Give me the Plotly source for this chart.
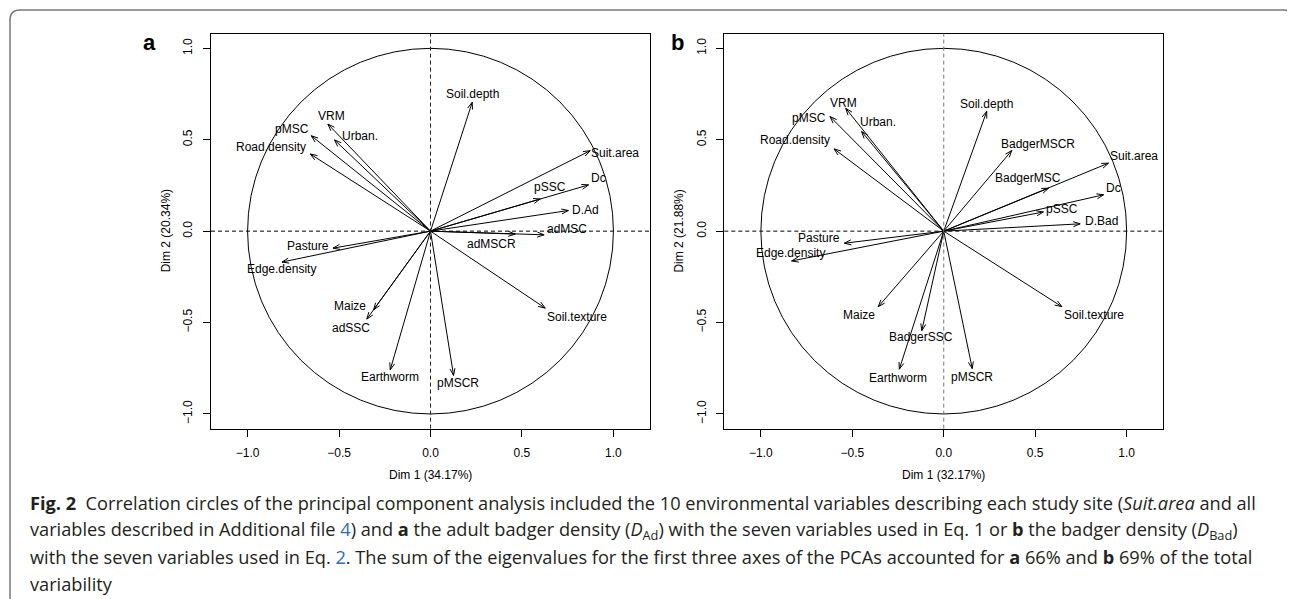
import math
import plotly.graph_objects as go

# page body keeps an 8px margin, so the figure is laid out in page pixels minus that offset
PAGE_W, PAGE_H = 1295, 599
OFF = 8
W, H = PAGE_W - OFF, PAGE_H - OFF

# ---------------- data ----------------
names_a = ["Soil.depth", "Suit.area", "Dc", "pSSC", "D.Ad", "adMSC", "adMSCR",
           "Soil.texture", "pMSCR", "Earthworm", "adSSC", "Maize", "Edge.density",
           "Pasture", "Road.density", "pMSC", "Urban.", "VRM"]
dim1_a = [0.228, 0.873, 0.864, 0.600, 0.754, 0.621, 0.463, 0.627, 0.126, -0.220,
          -0.348, -0.311, -0.812, -0.533, -0.657, -0.652, -0.525, -0.561]
dim2_a = [0.705, 0.440, 0.253, 0.176, 0.113, -0.020, -0.016, -0.421, -0.789, -0.758,
          -0.481, -0.430, -0.169, -0.093, 0.422, 0.522, 0.499, 0.586]

names_b = ["Soil.depth", "BadgerMSCR", "Suit.area", "BadgerMSC", "Dc", "pSSC", "D.Bad",
           "Soil.texture", "pMSCR", "Earthworm", "BadgerSSC", "Maize", "Edge.density",
           "Pasture", "Road.density", "pMSC", "Urban.", "VRM"]
dim1_b = [0.235, 0.372, 0.901, 0.573, 0.874, 0.545, 0.746, 0.646, 0.156, -0.243,
          -0.120, -0.358, -0.832, -0.544, -0.600, -0.622, -0.449, -0.536]
dim2_b = [0.655, 0.441, 0.372, 0.235, 0.199, 0.105, 0.040, -0.413, -0.752, -0.755,
          -0.544, -0.413, -0.163, -0.066, 0.450, 0.627, 0.545, 0.672]

axis_pct_a = ["Dim 1 (34.17%)", "Dim 2 (20.34%)"]
axis_pct_b = ["Dim 1 (32.17%)", "Dim 2 (21.88%)"]

tick_vals = [-1.0, -0.5, 0.0, 0.5, 1.0]
tick_text = ["\u22121.0", "\u22120.5", "0.0", "0.5", "1.0"]

# label placement offsets (data units) relative to arrow tips
lab_dx_a = [0.0, 0.136, 0.054, 0.054, 0.091, 0.124, -0.131, 0.173, 0.027, -0.004,
            -0.087, -0.128, 0.0, -0.134, -0.215, -0.105, 0.141, 0.021]
lab_dy_a = [0.046, -0.014, 0.037, 0.064, 0.0, 0.033, -0.055, -0.046, -0.042, -0.042,
            -0.049, 0.022, -0.039, 0.014, 0.040, 0.037, 0.023, 0.044]
lab_dx_b = [0.0, 0.146, 0.137, -0.110, 0.054, 0.101, 0.119, 0.174, -0.003, -0.005,
            -0.006, -0.104, -0.006, -0.137, -0.214, -0.113, 0.091, -0.012]
lab_dy_b = [0.042, 0.035, 0.040, 0.055, 0.036, 0.015, 0.018, -0.045, -0.044, -0.046,
            -0.033, -0.045, 0.043, 0.031, 0.050, -0.009, 0.052, 0.028]

# ---------------- helpers ----------------
def px(x):
    return (x - OFF) / W


def py(y):
    return 1 - (y - OFF) / H


FONT = "Liberation Sans, Arial, sans-serif"
CAP_FONT = "Open Sans, Noto Sans, sans-serif"

fig = go.Figure()

panels = [
    dict(xa="x", ya="y", xdom=(211, 650), names=names_a, d1=dim1_a, d2=dim2_a,
         dx=lab_dx_a, dy=lab_dy_a, titles=axis_pct_a, letter="a", letter_x=149, vcol="#222222"),
    dict(xa="x2", ya="y2", xdom=(724.3, 1163.2), names=names_b, d1=dim1_b, d2=dim2_b,
         dx=lab_dx_b, dy=lab_dy_b, titles=axis_pct_b, letter="b", letter_x=677, vcol="#777777"),
]

ytop, ybot = 33.7, 428.6
HEAD_L = 0.04
HEAD_ANG = math.radians(20)

annotations = []
shapes = []

for i, p in enumerate(panels):
    xs, ys = [], []
    for x, y in zip(p["d1"], p["d2"]):
        xs += [0, x, None]
        ys += [0, y, None]
        th = math.atan2(y, x)
        w1 = (x - HEAD_L * math.cos(th - HEAD_ANG), y - HEAD_L * math.sin(th - HEAD_ANG))
        w2 = (x - HEAD_L * math.cos(th + HEAD_ANG), y - HEAD_L * math.sin(th + HEAD_ANG))
        xs += [w1[0], x, w2[0], None]
        ys += [w1[1], y, w2[1], None]
    fig.add_trace(go.Scatter(x=xs, y=ys, mode="lines", xaxis=p["xa"], yaxis=p["ya"],
                             line=dict(color="black", width=1), hoverinfo="skip",
                             showlegend=False))
    for n, x, y, ddx, ddy in zip(p["names"], p["d1"], p["d2"], p["dx"], p["dy"]):
        annotations.append(dict(x=x + ddx, y=y + ddy, xref=p["xa"], yref=p["ya"], text=n,
                                showarrow=False, xanchor="center", yanchor="middle",
                                font=dict(family=FONT, size=12, color="black")))
    # unit circle
    shapes.append(dict(type="circle", xref=p["xa"], yref=p["ya"], x0=-1, y0=-1, x1=1, y1=1,
                       line=dict(color="black", width=1)))
    # dashed reference lines
    shapes.append(dict(type="line", xref=p["xa"] + " domain", yref=p["ya"], x0=0, x1=1, y0=0, y1=0,
                       line=dict(color="black", width=1, dash="4px,3px")))
    shapes.append(dict(type="line", xref=p["xa"], yref=p["ya"] + " domain", x0=0, x1=0, y0=0, y1=1,
                       line=dict(color=p["vcol"], width=1, dash="4px,3px")))
    x0p, x1p = p["xdom"]
    axkw = dict(showline=True, mirror=True, linecolor="black", linewidth=1, ticks="outside",
                ticklen=7, tickcolor="black", tickwidth=1, tickvals=tick_vals, ticktext=tick_text,
                showgrid=False, zeroline=False, ticklabelstandoff=6,
                tickfont=dict(family=FONT, size=12, color="black"))
    suffix = "" if i == 0 else "2"
    fig.update_layout(**{
        "xaxis" + suffix: dict(domain=[px(x0p), px(x1p)], range=[-1.2, 1.2],
                               anchor="y" + suffix, **axkw),
        "yaxis" + suffix: dict(domain=[py(ybot), py(ytop)], range=[-1.08, 1.08],
                               anchor="x" + suffix, tickangle=-90, **axkw),
    })
    cx = (x0p + x1p) / 2
    annotations.append(dict(x=px(cx), y=py(474.5), xref="paper", yref="paper", text=p["titles"][0],
                            showarrow=False, xanchor="center", yanchor="middle",
                            font=dict(family=FONT, size=12, color="black")))
    annotations.append(dict(x=px(x0p - 45), y=py(231.3), xref="paper", yref="paper",
                            text=p["titles"][1], textangle=-90,
                            showarrow=False, xanchor="center", yanchor="middle",
                            font=dict(family=FONT, size=12, color="black")))
    annotations.append(dict(x=px(p["letter_x"]), y=py(42), xref="paper", yref="paper",
                            text="<b>" + p["letter"] + "</b>",
                            showarrow=False, xanchor="center", yanchor="middle",
                            font=dict(family=FONT, size=22, color="black")))

# caption
BLUE = "#2a6ebb"
cap_lines = [
    "<b>Fig. 2</b>  Correlation circles of the principal component analysis included the 10 environmental "
    "variables describing each study site (<i>Suit.area</i> and all",
    "variables described in Additional file <span style='color:" + BLUE + "'>4</span>) and <b>a</b> the adult badger "
    "density (<i>D</i><sub>Ad</sub>) with the seven variables used in Eq. 1 or <b>b</b> the badger density "
    "(<i>D</i><sub>Bad</sub>)",
    "with the seven variables used in Eq. <span style='color:" + BLUE + "'>2</span>. The sum of the eigenvalues for "
    "the first three axes of the PCAs accounted for <b>a</b> 66% and <b>b</b> 69% of the total",
    "variability",
]
cap_y = [503, 530, 557, 584]
for t, yy in zip(cap_lines, cap_y):
    annotations.append(dict(x=px(28), y=py(yy), xref="paper", yref="paper", text=t,
                            showarrow=False, xanchor="left", yanchor="middle",
                            font=dict(family=CAP_FONT, size=18.2, color="#231f20")))

# outer frame of the figure box
border = ("M {a},{b} L {a},{c} Q {a},{d} {e},{d} L {f},{d} Q {g},{d} {g},{h}").format(
    a=px(10), b=py(599), c=py(20), d=py(10), e=px(20), f=px(1283), g=px(1294), h=py(19))
shapes.append(dict(type="path", xref="paper", yref="paper", path=border,
                   line=dict(color="#7a7a7a", width=1.5)))

fig.update_layout(width=W, height=H, margin=dict(l=0, r=0, t=0, b=0),
                  paper_bgcolor="white", plot_bgcolor="white",
                  annotations=annotations, shapes=shapes, showlegend=False)

fig.write_html("out.html")
